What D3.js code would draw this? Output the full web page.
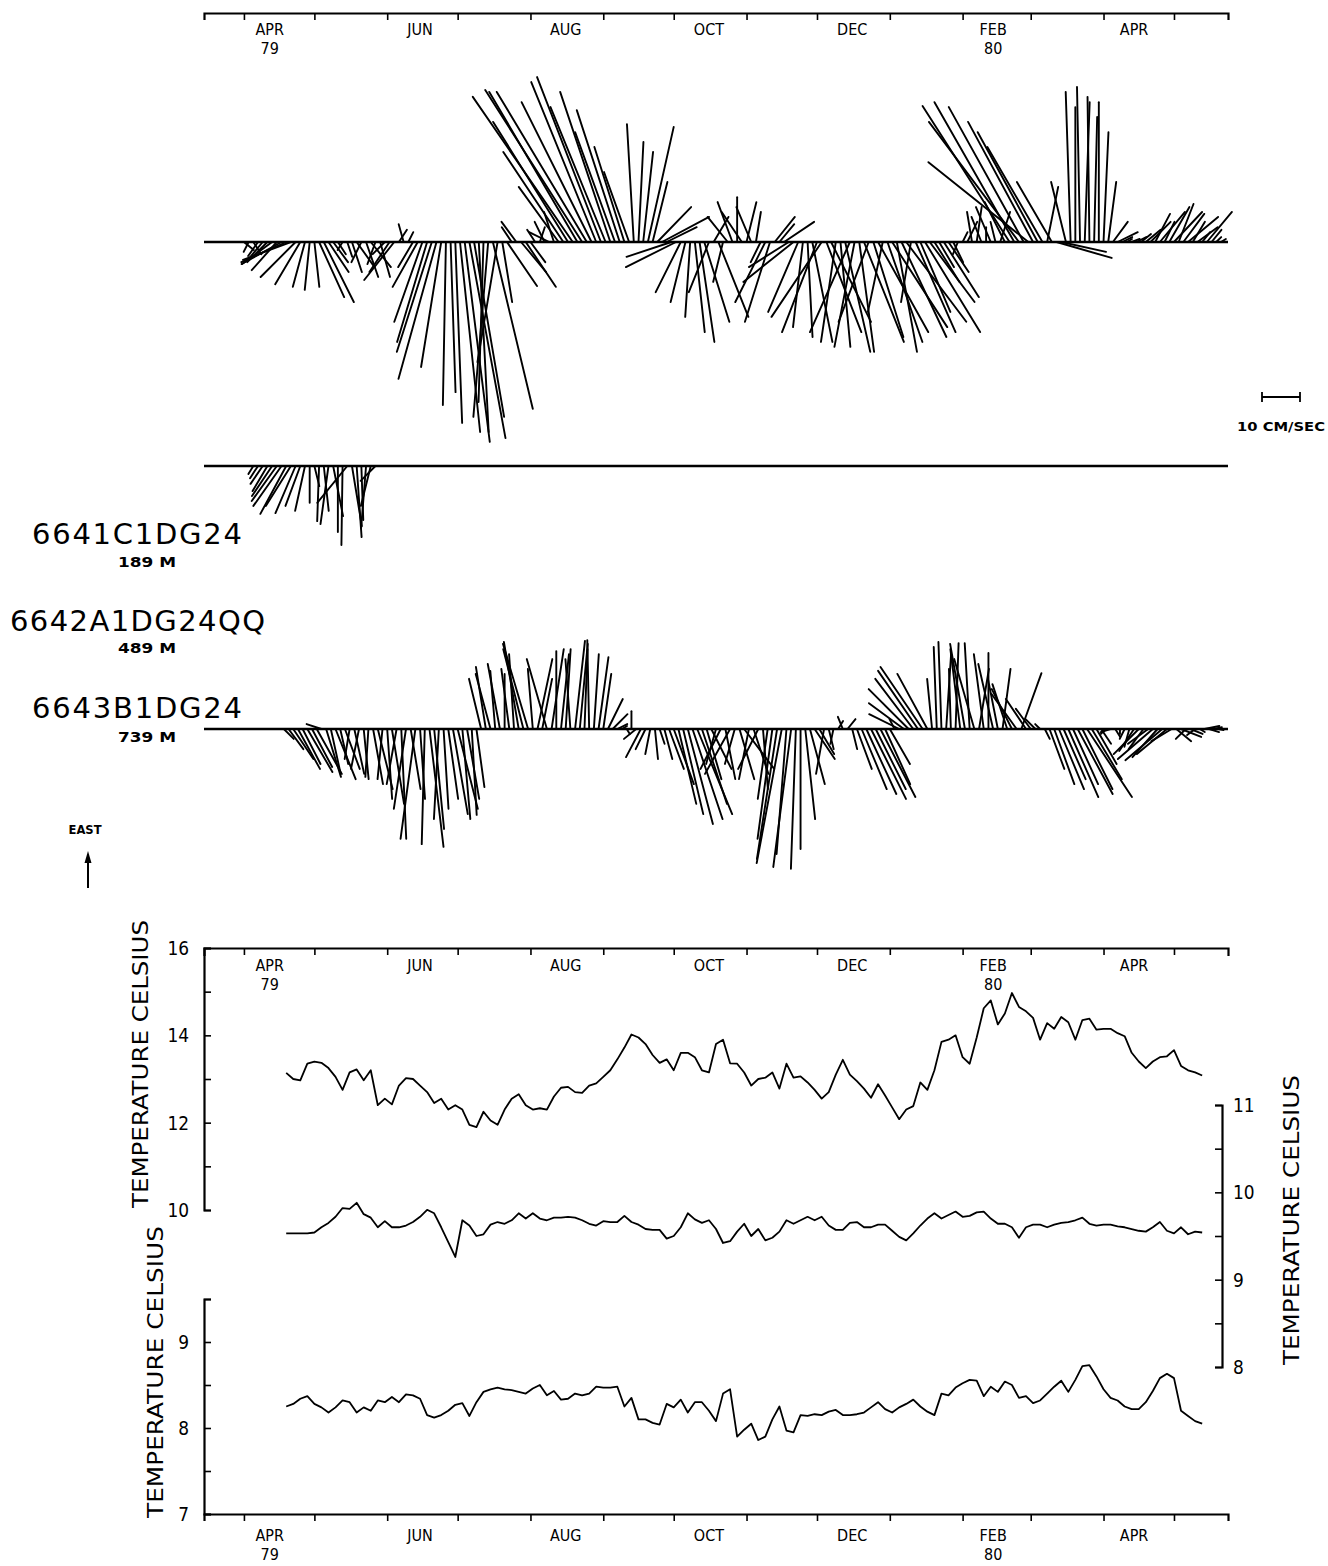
<!DOCTYPE html>
<html><head><meta charset="utf-8">
<script src="https://cdn.jsdelivr.net/npm/d3@7"></script>
<style>body{margin:0;background:#fff}</style>
</head><body>
<svg id="c" width="1328" height="1566"></svg>
<script>
// ---------- DATA ----------
const monthNames = ["APR","JUN","AUG","OCT","DEC","FEB","APR"];
const monthYears = ["79","","","","","80",""];
const monthLabelDates = ["1979-04-12","1979-06-15","1979-08-16","1979-10-16","1979-12-16","1980-02-14","1980-04-14"];

const stations = ["6641C1DG24","6642A1DG24QQ","6643B1DG24"];
const depths = ["189 M","489 M","739 M"];

// stick records: start date, 2-day step; east / north components in cm/s
const rec1Start = "1979-04-01";
const rec1East = [-2.1,-2.6,-3.2,-3.7,-4.7,-5.3,-5.8,-7.4,-5.8,-5.3,
 -4.7,-9.2,-11.1,-11.8,-12.6,-11.8,-14.5,-15.8,-7.9,-5.3,
 -3.2,-2.1,-3.9,-7.9,-6.6,-5.3,-9.2,-6.6,-5.8,-9.2,
 -3.2,-7.9,-10,3.2,4.7,2.6,-6.6,-11.8,-21,-26.3,
 -28.9,-36,-32.9,-42.9,-39.5,-47.6,-50,-52.6,-51.6,-46,
 -50,-42.1,-46,-43.9,-31.6,-15.8,-11.6,3.9,5.3,-7.9,
 -11.8,-5.3,3.2,3.9,5.3,2.6,7.9,14.5,23.7,31.6,
 38.2,39.5,40,39.5,36.8,42.1,43.4,35.5,39.5,28.9,
 34.7,25,18.4,31,26.3,23.7,30.3,15.8,9.2,6.6,
 3.9,-3.9,-6.6,-13.2,-15.8,-19.7,-23.7,-26.3,-21,-13.2,
 6.6,-19.7,-10.5,6.6,10.5,11.8,7.9,10.5,9.2,7.9,
 -5.3,-15.8,-21,6.6,4.7,5.3,-6.6,-10.5,-18.4,-22.4,
 -25,-26.3,-23.7,-19.7,-23.7,-21,-26.3,-27.6,-28.9,-23.7,
 -27.6,-28.9,-26.3,-21,-25,-23.7,-18.4,-26.3,-22.4,-28.9,
 -25,-21,-15.8,-23.7,-18.4,-23.7,-15.8,-10.5,-6.6,-14.5,
 -7.9,-5.3,-3.2,2.6,5.3,7.9,9.2,6.6,3.9,9.2,
 5.3,7.9,10.5,35.8,36.8,31.6,35.5,21,31.6,28.9,
 25,14.5,15.8,-4.2,-2.6,15.8,39.5,35.5,40.8,36.8,
 38.2,32.9,36.8,28.9,15.8,5.3,2.6,1.3,0.8,0.8,
 1.3,2.1,3.2,5.3,7.4,7.9,5.3,9.2,7.9,10,
 7.4,6.6,5.3,3.9,2.6,7.9,3.2,1.3,0.8];
const rec1North = [-2.6,1.3,-2.1,2.6,3.9,5.3,7.9,6.6,10.5,11.8,
 12.6,9.2,6.6,3.2,1.3,-1.3,-6.6,-7.9,-5.3,-3.9,
 -2.1,1.3,-1.3,-2.6,-4.7,2.6,-3.2,-5.3,2.1,-2.6,
 3.2,5.3,7.9,-2.1,1.3,-1.3,3.9,6.6,7.4,7.9,
 9.2,10,5.3,0.8,-1.3,-1.8,-5.3,-6.6,-9.5,-7.9,
 -2.6,1.3,3.9,-10.5,5.3,-2.6,-7.9,2.6,3.9,-6.6,
 -7.9,-3.9,2.1,-1.3,2.6,5.3,2.6,10.5,15.8,19.7,
 26.3,23.2,25.5,23.7,18.4,17.1,16.8,14.5,13.2,10.5,
 11.3,7.9,6.6,1.8,-1.3,-2.6,-6.8,-3.9,-8.9,-12.4,
 -7.9,11.8,13.2,6.6,3.9,1.3,-2.6,-3.9,-6.6,5.3,
 -3.9,-7.9,2.6,5.3,3.9,0,5.3,-2.6,3.9,-1.3,
 2.6,7.9,6.6,-5.3,-3.9,-7.9,10.5,13.2,7.9,2.6,
 -1.3,-5.3,9.2,13.2,-9.2,-10.5,3.9,-2.6,-6.6,10.5,
 5.3,-3.9,-10.5,7.9,-7.9,-13.2,3.9,-9.2,-14.5,-5.3,
 -11.8,-15.8,2.6,-10.5,-7.9,-14.5,-11.8,-6.6,-3.9,-9.2,
 -5.3,-2.6,1.3,-1.3,-2.6,1.3,-1.3,2.6,0,3.9,
 1.3,-2.6,5.3,22.9,21,23.7,19.7,26.3,17.1,15.8,
 14.5,-2.9,9.2,-14.5,-11.8,3.9,1.3,0,0.8,-1.3,
 0.5,-0.8,0,-1.3,-2.1,-3.9,-5.3,-2.6,-1.3,-2.1,
 -2.6,-2.6,-3.9,-5.3,-3.9,-6.6,-2.6,-5.3,-7.4,-3.9,
 -5.5,-7.9,-3.2,-5.3,-2.1,-6.6,-2.6,-1.3,-1.3];

const rec2Start = "1979-04-05";
const rec2East = [-2.1,-3.2,-4.7,-6.6,-7.9,-9.2,-10.5,-12.6,-10.5,-12.4,
 -10.5,-11.8,-9.7,-5.3,-14.5,-11.8,-15.3,-13.2,-17.4,-20.8,
 -9.7,-15.8,-18.7,-14.2,-16.3,-10.5,-3.9];
const rec2North = [1.3,2.1,3.2,3.9,5.3,6.6,7.4,6.8,6.6,5.3,
 3.9,2.6,0,-1.3,0.5,-1.3,2.1,-2.6,0,0.3,
 7.9,-2.6,-1.3,-0.5,1.3,2.6,3.9];

const rec3Start = "1979-04-18";
const rec3East = [-2.6,-5.3,-7.9,-10.5,-9.2,-11.3,-10,-11.8,1.3,-12.6,
 -11.8,-13.2,-9.2,-10.5,-7.9,-11.8,-10.5,-13.2,-12.6,-14.5,
 -15.8,-13.2,-18.4,-19.7,-14.5,-28.9,-21,-15.8,-28.9,-18.4,
 -30.3,-31,-26.3,-23.7,-21,-18.4,-22.4,-21,-23.7,-18.4,
 -22.6,-15.3,13.2,16.3,14.5,15.3,17.1,14.5,15.8,19.7,
 22.9,21,22.4,15.8,18.4,13.2,18.4,21,20.5,19.7,
 21,18.4,23.2,22.4,21,23.4,19.7,18.9,14.5,7.9,
 3.9,1.3,0.8,-1.3,4.7,-2.6,-7.4,-5.3,-6.6,-7.9,
 -3.9,-7.9,-10.5,-14.5,-19.7,-22.4,-25,-23.7,-22.4,-19.7,
 -13.2,-10.5,-9.2,-10.5,-13.2,-11.8,-9.2,-13.2,-10.5,-13.2,
 -11.8,-10.5,-15.8,-18.4,-28.9,-34.2,-35.3,-32.9,-36.3,-36.8,
 -31.6,-23.7,-14.5,-7.9,-6.6,-11.8,-5.3,-3.9,2.1,3.2,
 2.6,-5.3,-10.5,-15.8,-17.1,-18.4,-15.8,-17.9,-14.5,-9.2,
 2.6,3.9,6.8,10.5,13.2,15.3,16.3,14.5,13.2,21.6,
 22.9,19.7,15.8,22.6,21,22.4,22.6,18.4,15.8,19.7,
 20,17.1,13.2,15.8,11.8,10.5,9.2,14.7,7.9,5.3,
 2.6,1.3,-2.6,-10.5,-14.5,-15.8,-13.2,-17.9,-14.5,-17.1,
 -15.8,-17.9,-13.2,-9.2,-3.9,-1.3,-0.8,-2.1,-1.3,-2.6,
 -4.7,-5.8,-6.6,-5.3,-3.9,-7.9,-7.4,-8.2,-6.6,-3.2,
 -3.2,-2.1,-2.6,-1.3,-1.6,-0.8,0.8,-0.8,0.5,-0.3];
const rec3North = [-2.6,-3.9,-5.3,-5.8,-4.7,-6.6,-5.3,-6.6,3.9,-3.9,
 -2.6,-5.3,-2.1,-3.9,1.3,-2.6,2.1,-1.3,0.8,-2.6,
 -3.9,1.3,-1.3,-3.2,2.6,-1.3,3.2,-2.6,3.9,-1.3,
 0.8,-3.7,-2.6,1.3,-1.3,-2.6,-3.9,-5.3,-2.1,-3.2,
 -1.3,-2.1,3.2,2.6,3.9,1.3,3.2,0,2.1,1.3,
 3.9,5.3,6.6,1.3,-3.9,-2.6,5.3,-3.2,0,-2.1,
 -1.3,1.3,-2.6,-2.1,-0.8,0.5,-1.3,-2.6,-2.1,-3.9,
 -3.9,-2.6,-1.3,-0.8,0,3.2,3.9,2.6,1.3,-0.8,
 -1.3,-2.1,-3.9,-5.3,-4.7,-5.3,-6.6,-7.9,-9.2,-6.6,
 -3.9,-5.3,2.6,5.3,-2.6,6.6,2.6,-3.9,-7.9,2.6,
 -3.9,5.3,-1.3,2.6,3.9,5.3,6.6,2.6,4.7,1.3,
 0,-2.6,-3.9,-5.3,-3.9,2.1,-1.3,0.8,-1.3,1.3,
 -2.1,-1.3,-3.9,-6.6,-7.9,-9.2,-7.9,-9.2,-6.6,-5.3,
 1.3,7.9,9.2,10.5,10,10.5,11.1,7.9,1.3,0.8,
 0.8,-1.3,0.5,-0.8,2.6,3.9,1.3,5.3,-2.6,2.6,
 0,3.9,2.6,-2.1,3.9,5.3,6.6,-5.3,5.3,3.9,
 2.6,1.3,-1.3,-3.9,-5.3,-6.6,-5.8,-7.9,-6.6,-9.2,
 -7.9,-11.8,-7.9,-5.3,-2.6,1.3,2.6,-1.3,0,1.3,
 1.3,3.9,6.6,3.9,5.3,9.2,6.6,9.7,7.9,5.3,
 -3.9,-5.3,2.6,-3.2,2.1,-1.3,-3.9,-2.6,-2.1,-1.3];

// temperature series: start date, 3-day step (deg C)
const tempStart = "1979-04-19";
const tempUpper = [13.14,13.0,12.97,13.35,13.4,13.37,13.25,13.05,12.75,13.15,
 13.22,12.97,13.2,12.4,12.55,12.42,12.85,13.02,13.0,12.85,
 12.7,12.45,12.55,12.3,12.4,12.3,11.95,11.9,12.25,12.05,
 11.95,12.3,12.55,12.65,12.4,12.3,12.33,12.3,12.6,12.8,
 12.82,12.7,12.68,12.85,12.9,13.05,13.2,13.45,13.72,14.02,
 13.95,13.8,13.55,13.37,13.45,13.2,13.6,13.6,13.5,13.2,
 13.15,13.8,13.9,13.36,13.35,13.15,12.85,13.0,13.03,13.15,
 12.78,13.35,13.03,13.06,12.92,12.75,12.55,12.7,13.1,13.44,
 13.1,12.95,12.78,12.57,12.88,12.62,12.35,12.08,12.3,12.38,
 12.92,12.75,13.2,13.85,13.9,14.0,13.5,13.35,13.95,14.62,
 14.8,14.25,14.5,14.97,14.65,14.55,14.4,13.9,14.28,14.15,
 14.42,14.3,13.9,14.35,14.38,14.13,14.15,14.15,14.05,13.98,
 13.6,13.4,13.25,13.4,13.5,13.52,13.66,13.3,13.2,13.15,
 13.08];
const tempMiddle = [9.53,9.53,9.53,9.53,9.54,9.6,9.65,9.72,9.82,9.81,
 9.88,9.75,9.71,9.6,9.67,9.6,9.6,9.62,9.66,9.72,
 9.8,9.76,9.6,9.43,9.26,9.68,9.62,9.5,9.52,9.63,
 9.66,9.64,9.68,9.76,9.7,9.76,9.7,9.68,9.71,9.71,
 9.72,9.71,9.68,9.64,9.62,9.67,9.66,9.66,9.73,9.66,
 9.63,9.58,9.57,9.57,9.47,9.5,9.6,9.76,9.69,9.65,
 9.68,9.58,9.42,9.44,9.55,9.64,9.5,9.58,9.45,9.48,
 9.55,9.68,9.64,9.68,9.72,9.68,9.72,9.62,9.57,9.57,
 9.65,9.66,9.6,9.6,9.63,9.63,9.56,9.49,9.45,9.53,
 9.62,9.7,9.76,9.7,9.74,9.78,9.72,9.73,9.77,9.78,
 9.7,9.64,9.64,9.6,9.48,9.6,9.63,9.63,9.6,9.63,
 9.65,9.66,9.68,9.71,9.64,9.62,9.63,9.63,9.61,9.6,
 9.58,9.56,9.55,9.6,9.66,9.56,9.53,9.6,9.52,9.55,
 9.54];
const tempLower = [8.25,8.28,8.34,8.37,8.28,8.24,8.18,8.24,8.32,8.3,
 8.18,8.24,8.2,8.32,8.3,8.36,8.3,8.39,8.38,8.34,
 8.15,8.12,8.15,8.2,8.27,8.29,8.14,8.3,8.42,8.45,
 8.47,8.45,8.44,8.42,8.4,8.46,8.5,8.38,8.43,8.33,
 8.34,8.4,8.38,8.4,8.48,8.47,8.47,8.48,8.25,8.35,
 8.1,8.1,8.06,8.04,8.28,8.24,8.33,8.18,8.3,8.3,
 8.2,8.08,8.4,8.45,7.9,7.98,8.05,7.86,7.9,8.1,
 8.25,7.97,7.95,8.15,8.14,8.16,8.15,8.19,8.21,8.15,
 8.15,8.16,8.18,8.24,8.3,8.22,8.18,8.24,8.28,8.33,
 8.25,8.19,8.15,8.4,8.38,8.47,8.52,8.56,8.55,8.37,
 8.48,8.42,8.54,8.5,8.35,8.37,8.29,8.32,8.4,8.48,
 8.55,8.42,8.56,8.72,8.73,8.6,8.45,8.35,8.32,8.25,
 8.22,8.22,8.3,8.43,8.58,8.63,8.58,8.2,8.14,8.08,
 8.05];

const upperTicks = [10,11,12,13,14,15,16];
const upperLabels = [10,12,14,16];
const rightTicks = [8,8.5,9,9.5,10,10.5,11];
const rightLabels = [8,9,10,11];
const lowerTicks = [7,7.5,8,8.5,9,9.5];
const lowerLabels = [7,8,9];

// ---------- DRAW ----------
const FONT = "'DejaVu Sans','Liberation Sans',sans-serif";
const svg = d3.select("#c");
const parse = d3.utcParse("%Y-%m-%d");
const x = d3.scaleUtc().domain([parse("1979-03-15"), parse("1980-05-24")]).range([204, 1228]);
const speed = d3.scaleLinear().domain([0, 10]).range([0, 38]); // 10 cm/s bar
const monthTicks = d3.utcMonth.range(parse("1979-04-01"), parse("1980-05-02"));

function txt(g, px, py, s, o) {
  o = o || {};
  const t = g.append("text")
    .attr("transform", `translate(${px},${py}) scale(${o.sx || 1},1)`)
    .attr("text-anchor", o.anchor || "middle")
    .attr("font-family", o.family || FONT)
    .attr("font-size", o.size || 16)
    .attr("font-weight", o.weight || 400)
    .attr("fill", "#000")
    .text(s);
  if (o.len) t.attr("textLength", o.len).attr("lengthAdjust", o.adj || "spacingAndGlyphs");
  return t;
}
function styleAxis(g, w) {
  g.select(".domain").attr("stroke", "#000").attr("stroke-width", w || 2.2).attr("fill", "none");
  g.selectAll(".tick line").attr("stroke", "#000").attr("stroke-width", 1.6);
  g.selectAll(".tick text").remove();
}
// month name with optional year beneath
function monthLabels(base1) {
  monthNames.forEach((m, i) => {
    const cx = x(parse(monthLabelDates[i]));
    txt(svg, cx, base1, m, {size: 16, sx: 0.9});
    if (monthYears[i]) txt(svg, cx, base1 + 19, monthYears[i], {size: 16, sx: 0.9});
  });
}

// top month axis (stick plots)
const gTop = svg.append("g").attr("transform", "translate(0,13)")
  .call(d3.axisTop(x).tickValues(monthTicks).tickSizeInner(-7).tickSizeOuter(-7).tickFormat(""));
styleAxis(gTop);
monthLabels(35);

// stick plots
function sticks(startStr, east, north, y0) {
  const t0 = parse(startStr);
  svg.append("line").attr("x1", 204).attr("x2", 1228).attr("y1", y0).attr("y2", y0)
    .attr("stroke", "#000").attr("stroke-width", 2.6);
  const data = east.map((e, i) => ({t: d3.utcDay.offset(t0, 2 * i), e: e, n: north[i]}));
  svg.append("g").selectAll("line").data(data).join("line")
    .attr("x1", d => x(d.t)).attr("y1", y0)
    .attr("x2", d => x(d.t) - speed(d.n)).attr("y2", d => y0 - speed(d.e))
    .attr("stroke", "#000").attr("stroke-width", 1.9).attr("stroke-linecap", "round");
}
sticks(rec1Start, rec1East, rec1North, 242);
sticks(rec2Start, rec2East, rec2North, 466);
sticks(rec3Start, rec3East, rec3North, 729);

// scale bar
const barX = 1262, barY = 397;
svg.append("path").attr("d", `M${barX},${barY-5}V${barY+5}M${barX},${barY}H${barX + speed(10)}M${barX + speed(10)},${barY-5}V${barY+5}`)
  .attr("stroke", "#000").attr("stroke-width", 1.8).attr("fill", "none");
txt(svg, 1237, 431, "10 CM/SEC", {size: 13, weight: 700, anchor: "start", len: 88});

// station labels
const stY = [544, 631, 718], stX = [32, 10, 32], stLen = [210, 255, 210];
const dpY = [567, 653, 742];
stations.forEach((s, i) => {
  txt(svg, stX[i], stY[i], s, {size: 29, weight: 400, anchor: "start", len: stLen[i], adj: "spacing"});
  txt(svg, 147, dpY[i], depths[i], {size: 14, weight: 700, len: 58});
});

// EAST arrow
txt(svg, 85, 834, "EAST", {size: 12, weight: 700, len: 33});
svg.append("line").attr("x1", 88).attr("x2", 88).attr("y1", 888).attr("y2", 858).attr("stroke", "#000").attr("stroke-width", 2);
svg.append("path").attr("d", "M84.5,863L88,851L91.5,863Z").attr("fill", "#000");

// ---------- temperature panel ----------
const yU = d3.scaleLinear().domain([10, 16]).range([1210, 948]);
const yR = d3.scaleLinear().domain([8, 11]).range([1367, 1105]);
const yL = d3.scaleLinear().domain([7, 9.5]).range([1514, 1299]);

const gTT = svg.append("g").attr("transform", "translate(0,948)")
  .call(d3.axisTop(x).tickValues(monthTicks).tickSizeInner(-7).tickSizeOuter(-8).tickFormat(""));
styleAxis(gTT);
monthLabels(971);

const gTB = svg.append("g").attr("transform", "translate(0,1514)")
  .call(d3.axisBottom(x).tickValues(monthTicks).tickSizeInner(7).tickSizeOuter(7).tickFormat(""));
styleAxis(gTB);
monthLabels(1541);

const gU = svg.append("g").attr("transform", "translate(204,0)")
  .call(d3.axisLeft(yU).tickValues(upperTicks).tickSizeInner(-7).tickSizeOuter(-7).tickFormat(""));
styleAxis(gU);
upperLabels.forEach(v => txt(svg, 189, yU(v) + 7, String(v), {size: 20, sx: 0.85, anchor: "end"}));

const gR = svg.append("g").attr("transform", "translate(1222,0)")
  .call(d3.axisRight(yR).tickValues(rightTicks).tickSizeInner(-7).tickSizeOuter(-7).tickFormat(""));
styleAxis(gR);
rightLabels.forEach(v => txt(svg, 1233, yR(v) + 7, String(v), {size: 20, sx: 0.85, anchor: "start"}));

const gL = svg.append("g").attr("transform", "translate(204,0)")
  .call(d3.axisLeft(yL).tickValues(lowerTicks).tickSizeInner(-7).tickSizeOuter(-7).tickFormat(""));
styleAxis(gL);
lowerLabels.forEach(v => txt(svg, 189, yL(v) + 7, String(v), {size: 20, sx: 0.85, anchor: "end"}));

function vTitle(bx, cy, len) {
  svg.append("text").attr("transform", `translate(${bx},${cy}) rotate(-90)`)
    .attr("text-anchor", "middle").attr("font-family", FONT).attr("font-size", 21)
    .attr("textLength", len).attr("lengthAdjust", "spacingAndGlyphs").attr("fill", "#000")
    .text("TEMPERATURE CELSIUS");
}
vTitle(148, 1064, 288);
vTitle(163, 1372, 292);
vTitle(1299, 1220, 290);

const t0 = parse(tempStart);
function tline(vals, yS) {
  const line = d3.line().x((d, i) => x(d3.utcDay.offset(t0, 3 * i))).y(d => yS(d));
  svg.append("path").datum(vals).attr("d", line)
    .attr("fill", "none").attr("stroke", "#000").attr("stroke-width", 1.8).attr("stroke-linejoin", "round");
}
tline(tempUpper, yU);
tline(tempMiddle, yR);
tline(tempLower, yL);
</script>
</body></html>
